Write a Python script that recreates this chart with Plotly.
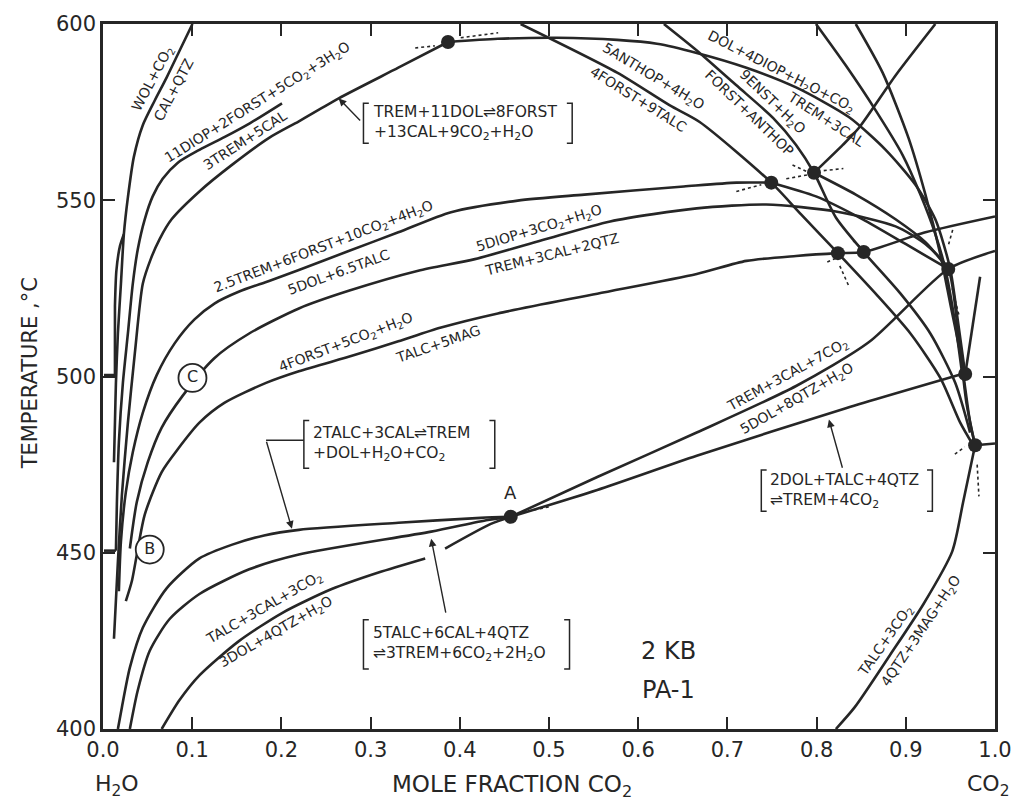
import plotly.graph_objects as go

INK = "#262626"
FONT = "DejaVu Sans"

# ---------------- curve data (mole fraction CO2, temperature °C) ----------------
wol_x = [0.0123, 0.0134, 0.0145, 0.0167, 0.0201, 0.0234, 0.0279, 0.0346, 0.0446, 0.0580, 0.0713, 0.0858, 0.1003]
wol_t = [475.7, 486.9, 498.2, 512.2, 526.3, 540.4, 550.8, 562.3, 571.3, 578.3, 584.8, 592.4, 600.0]

# bracket-like foot at 500 °C merging into the WOL curve
foot500_x = [0.0011, 0.0134, 0.0134]
foot500_t = [500.4, 500.4, 520.0]
merge500_x = [0.0134, 0.0150, 0.0190, 0.0234]
merge500_t = [520.0, 530.0, 537.0, 540.4]

foot450_x = [0.0011, 0.0145]
foot450_t = [450.6, 450.6]

diop11_x = [0.0145, 0.0156, 0.0178, 0.0223, 0.0279, 0.0334, 0.0390, 0.0468, 0.0557, 0.0669, 0.0836, 0.1081, 0.1360, 0.1650, 0.2007]
diop11_t = [450.6, 464.4, 481.3, 498.2, 512.2, 526.3, 536.1, 544.6, 551.1, 556.1, 560.6, 564.3, 567.9, 571.9, 577.5]

trem11_x = [0.0123, 0.0167, 0.0212, 0.0279, 0.0357, 0.0446, 0.0535, 0.0635, 0.0769, 0.1081, 0.1449, 0.1862, 0.2196, 0.2642, 0.3311, 0.3868]
trem11_t = [425.6, 447.5, 466.4, 486.9, 506.6, 526.3, 533.3, 539.0, 544.6, 552.5, 560.1, 567.7, 572.4, 578.9, 587.6, 594.9]

trem25_x = [0.0178, 0.0201, 0.0256, 0.0334, 0.0446, 0.0602, 0.0803, 0.1026, 0.1249, 0.1527, 0.1862, 0.2196, 0.2754, 0.3311, 0.3902, 0.4649, 0.5396, 0.6511, 0.7102, 0.7492]
trem25_t = [439.1, 453.2, 467.2, 478.5, 489.7, 500.4, 509.4, 516.2, 520.7, 524.1, 527.1, 530.2, 535.6, 540.9, 546.6, 549.9, 551.6, 553.9, 555.0, 555.0]

diop5_x = [0.0301, 0.0379, 0.0502, 0.0658, 0.0892, 0.1248, 0.1639, 0.2196, 0.2754, 0.3534, 0.4169, 0.4928, 0.5686, 0.6656, 0.7436, 0.8216, 0.8885, 0.9219, 0.9476, 0.9588, 0.9680, 0.9777]
diop5_t = [451.2, 464.4, 475.7, 485.5, 494.5, 505.2, 512.2, 519.3, 524.3, 530.0, 533.3, 538.7, 544.0, 547.7, 548.8, 546.8, 542.6, 537.6, 530.5, 512.2, 492.5, 480.5]

forst4_x = [0.0256, 0.0323, 0.0468, 0.0658, 0.0836, 0.1081, 0.1360, 0.1828, 0.2196, 0.2809, 0.3311, 0.3790, 0.4426, 0.5541, 0.6656, 0.7213, 0.7770, 0.8239, 0.8528, 0.9220, 1.0]
forst4_t = [436.3, 441.9, 460.8, 472.9, 479.3, 486.9, 492.5, 498.2, 501.5, 506.0, 510.0, 513.9, 517.9, 523.5, 529.1, 532.8, 534.2, 535.0, 535.3, 540.9, 545.4]

talc2_x = [0.0167, 0.0212, 0.0301, 0.0446, 0.0713, 0.1081, 0.1449, 0.1806, 0.2196, 0.3311, 0.4236, 0.4571]
talc2_t = [400.0, 406.2, 417.4, 428.7, 439.9, 448.4, 452.3, 454.9, 456.5, 458.5, 459.9, 460.2]

mid_x = [0.0301, 0.0390, 0.0524, 0.0747, 0.1081, 0.1639, 0.2196, 0.3679, 0.4314, 0.4571]
mid_t = [400.0, 411.0, 422.2, 431.2, 438.3, 445.3, 449.5, 456.0, 459.3, 460.2]

talc3cal_x = [0.0658, 0.0858, 0.1081, 0.1527, 0.2007, 0.2564, 0.3088, 0.3612]
talc3cal_t = [400.0, 408.2, 415.2, 425.0, 432.9, 439.7, 444.4, 448.4]

talc5_x = [0.3835, 0.4348, 0.4571]
talc5_t = [451.2, 458.2, 460.2]

co7_x = [0.4571, 0.5541, 0.6656, 0.7770, 0.8584, 0.9476, 1.0]
co7_t = [460.2, 471.5, 484.1, 497.3, 509.7, 530.5, 535.6]

dol2_x = [0.4571, 0.5541, 0.6656, 0.8328, 0.9632]
dol2_t = [460.2, 467.8, 477.5, 491.0, 500.7]

talcmag_x = [0.8216, 0.8428, 0.8818, 0.9197, 0.9521, 0.9643, 0.9777]
talcmag_t = [400.0, 406.2, 420.8, 435.4, 450.4, 464.4, 480.5]

d8_x = [0.9777, 1.0]
d8_t = [480.5, 481.0]

d7up_x = [0.9677, 0.9833]
d7up_t = [502.4, 528.3]

dome_x = [0.3868, 0.4426, 0.5095, 0.5764, 0.6210, 0.6656, 0.7213, 0.7770, 0.8361, 0.8774, 0.9108, 0.9331, 0.9498, 0.9588, 0.9666]
dome_t = [594.9, 595.8, 596.1, 595.5, 594.4, 591.8, 587.6, 582.0, 573.6, 564.3, 554.4, 544.6, 530.5, 515.0, 500.7]

anth_x = [0.4682, 0.5764, 0.6355, 0.6689, 0.7492, 0.7826, 0.8239, 0.8662, 0.9052, 0.9387, 0.9610, 0.9755]
anth_t = [600.0, 586.2, 576.9, 572.2, 555.0, 546.0, 535.0, 523.5, 512.2, 499.6, 486.9, 480.5]

fanth_x = [0.6288, 0.6689, 0.7101, 0.7514, 0.7770, 0.7971, 0.8216, 0.8528, 0.8941, 0.9275, 0.9554, 0.9721]
fanth_t = [600.0, 591.8, 582.6, 573.3, 565.7, 557.8, 545.1, 535.3, 523.5, 512.2, 498.2, 484.1]

upr_x = [0.7971, 0.8294, 0.8473, 0.8885, 0.9331]
upr_t = [557.8, 565.7, 570.5, 585.4, 600.0]

top1_x = [0.7993, 0.8328, 0.8662, 0.8963, 0.9164, 0.9331, 0.9443, 0.9554, 0.9632]
top1_t = [600.0, 588.2, 575.5, 562.9, 551.6, 540.4, 530.5, 515.0, 500.7]

top2_x = [0.8439, 0.8740, 0.9030, 0.9220, 0.9387, 0.9498, 0.9610, 0.9721, 0.9777]
top2_t = [600.0, 586.2, 567.7, 551.6, 534.7, 520.7, 506.6, 486.9, 480.5]

d2d6_x = [0.7492, 0.7993, 0.8517, 0.8997, 0.9476]
d2d6_t = [555.0, 551.1, 544.6, 537.6, 530.5]

d3d6_x = [0.7971, 0.8439, 0.8885, 0.9220, 0.9476]
d3d6_t = [557.8, 551.6, 544.6, 538.1, 530.5]

smooth_curves = [
    (wol_x, wol_t), (merge500_x, merge500_t), (diop11_x, diop11_t), (trem11_x, trem11_t),
    (trem25_x, trem25_t), (diop5_x, diop5_t), (forst4_x, forst4_t), (talc2_x, talc2_t),
    (mid_x, mid_t), (talc3cal_x, talc3cal_t), (talc5_x, talc5_t), (co7_x, co7_t),
    (dol2_x, dol2_t), (talcmag_x, talcmag_t), (dome_x, dome_t), (anth_x, anth_t),
    (fanth_x, fanth_t), (upr_x, upr_t), (top1_x, top1_t), (top2_x, top2_t),
    (d2d6_x, d2d6_t), (d3d6_x, d3d6_t),
]
straight_curves = [(foot500_x, foot500_t), (foot450_x, foot450_t), (d8_x, d8_t), (d7up_x, d7up_t)]

# metastable (dashed) extensions near invariant points
dash_segments = [
    ([0.350, 0.372], [593.2, 593.8]),
    ([0.401, 0.443], [596.1, 597.5]),
    ([0.710, 0.738], [552.5, 554.4]),
    ([0.766, 0.790], [556.1, 557.2]),
    ([0.773, 0.790], [560.0, 558.0]),
    ([0.808, 0.830], [558.4, 559.0]),
    ([0.826, 0.836], [531.4, 525.7]),
    ([0.812, 0.826], [532.5, 534.0]),
    ([0.841, 0.850], [538.5, 536.5]),
    ([0.948, 0.953], [537.5, 542.0]),
    ([0.952, 0.960], [525.0, 517.0]),
    ([0.980, 0.982], [475.0, 466.0]),
    ([0.955, 0.966], [478.0, 480.0]),
    ([0.470, 0.500], [461.5, 463.0]),
]

# invariant points
inv_x = [0.3868, 0.7492, 0.7971, 0.8239, 0.8528, 0.9476, 0.9666, 0.9777, 0.4571]
inv_t = [594.9, 555.0, 557.8, 535.0, 535.3, 530.5, 500.7, 480.5, 460.2]

# circled curve labels
circ_x = [0.0524, 0.1003]
circ_t = [450.9, 499.6]
circ_txt = ["B", "C"]

# rotated reaction labels: text, x, T, angle
reaction_labels = [
    ("WOL+CO<sub>2</sub>", 0.0557, 584.5, -62),
    ("CAL+QTZ", 0.0792, 581.2, -62),
    ("11DIOP+2FORST+5CO<sub>2</sub>+3H<sub>2</sub>O", 0.1728, 577.7, -32),
    ("3TREM+5CAL", 0.1594, 567.1, -33),
    ("2.5TREM+6FORST+10CO<sub>2</sub>+4H<sub>2</sub>O", 0.2475, 536.7, -21),
    ("5DOL+6.5TALC", 0.2642, 529.7, -20),
    ("5DIOP+3CO<sub>2</sub>+H<sub>2</sub>O", 0.4883, 541.8, -17),
    ("TREM+3CAL+2QTZ", 0.5039, 534.7, -14),
    ("4FORST+5CO<sub>2</sub>+H<sub>2</sub>O", 0.2720, 509.4, -21),
    ("TALC+5MAG", 0.3757, 509.1, -19),
    ("5ANTHOP+4H<sub>2</sub>O", 0.6170, 584.9, 31),
    ("4FORST+9TALC", 0.5998, 578.6, 32),
    ("DOL+4DIOP+H<sub>2</sub>O+CO<sub>2</sub>", 0.7603, 586.5, 27),
    ("TREM+3CAL", 0.8105, 573.0, 33),
    ("9ENST+H<sub>2</sub>O", 0.7501, 578.0, 44),
    ("FORST+ANTHOP", 0.7249, 574.7, 44),
    ("TREM+3CAL+7CO<sub>2</sub>", 0.7681, 500.4, -29),
    ("5DOL+8QTZ+H<sub>2</sub>O", 0.7782, 493.7, -30),
    ("TALC+3CAL+3CO<sub>2</sub>", 0.1812, 434.2, -30),
    ("3DOL+4QTZ+H<sub>2</sub>O", 0.1945, 427.6, -30),
    ("TALC+3CO<sub>2</sub>", 0.8774, 425.0, -55),
    ("4QTZ+3MAG+H<sub>2</sub>O", 0.9175, 427.8, -56),
]

# bracketed reactions: text, left bracket x, right bracket x, top T, bottom T
bracket_labels = [
    ("TREM+11DOL\u21cc8FORST<br>+13CAL+9CO<sub>2</sub>+H<sub>2</sub>O", 0.292, 0.526, 577.5, 566.2),
    ("2TALC+3CAL\u21ccTREM<br>+DOL+H<sub>2</sub>O+CO<sub>2</sub>", 0.2252, 0.4392, 487.5, 474.0),
    ("5TALC+6CAL+4QTZ<br>\u21cc3TREM+6CO<sub>2</sub>+2H<sub>2</sub>O", 0.292, 0.523, 431.0, 417.0),
    ("2DOL+TALC+4QTZ<br>\u21ccTREM+4CO<sub>2</sub>", 0.738, 0.9298, 473.5, 461.8),
]

# leader arrows: tip x, tip T, tail x, tail T
arrows = [
    (0.2642, 578.9, 0.2899, 572.2),
    (0.2118, 456.8, 0.1828, 481.9),
    (0.3679, 454.0, 0.3846, 432.6),
    (0.8138, 487.8, 0.8294, 473.7),
]
leader_x = [0.1828, 0.2252]
leader_t = [481.9, 481.9]

x_ticks = [0.0, 0.1, 0.2, 0.3, 0.4, 0.5, 0.6, 0.7, 0.8, 0.9, 1.0]
x_ticktext = ["0.0", "0.1", "0.2", "0.3", "0.4", "0.5", "0.6", "0.7", "0.8", "0.9", "1.0"]
y_ticks = [400, 450, 500, 550, 600]

fig = go.Figure()

for x, t in smooth_curves:
    fig.add_trace(go.Scatter(x=x, y=t, mode="lines",
                             line=dict(color=INK, width=2.6, shape="spline", smoothing=0.7),
                             hoverinfo="skip", showlegend=False))
for x, t in straight_curves:
    fig.add_trace(go.Scatter(x=x, y=t, mode="lines", line=dict(color=INK, width=2.6),
                             hoverinfo="skip", showlegend=False))

for x, t in dash_segments:
    fig.add_trace(go.Scatter(x=x, y=t, mode="lines",
                             line=dict(color=INK, width=1.6, dash="3px,3px"),
                             hoverinfo="skip", showlegend=False))

fig.add_trace(go.Scatter(x=leader_x, y=leader_t, mode="lines",
                         line=dict(color=INK, width=1.4), hoverinfo="skip", showlegend=False))

fig.add_trace(go.Scatter(x=inv_x, y=inv_t, mode="markers",
                         marker=dict(color=INK, size=14), hoverinfo="skip", showlegend=False))

fig.add_trace(go.Scatter(x=circ_x, y=circ_t, mode="markers+text", text=circ_txt,
                         textposition="middle center",
                         textfont=dict(family=FONT, size=16, color=INK),
                         marker=dict(color="white", size=28, line=dict(color=INK, width=1.8)),
                         hoverinfo="skip", showlegend=False))

for txt, x, t, ang in reaction_labels:
    fig.add_annotation(x=x, y=t, xref="x", yref="y", text=txt, textangle=ang,
                       showarrow=False, font=dict(family=FONT, size=14, color=INK))

for txt, xl, xr, tt, tb in bracket_labels:
    fig.add_annotation(x=xl + 0.008, y=(tt + tb) / 2, xref="x", yref="y", text=txt,
                       xanchor="left", yanchor="middle", align="left", showarrow=False,
                       font=dict(family=FONT, size=15.5, color=INK))
    w = 0.006
    fig.add_shape(type="path", xref="x", yref="y",
                  path=f"M {xl + w},{tt} L {xl},{tt} L {xl},{tb} L {xl + w},{tb}",
                  line=dict(color=INK, width=1.5))
    fig.add_shape(type="path", xref="x", yref="y",
                  path=f"M {xr - w},{tt} L {xr},{tt} L {xr},{tb} L {xr - w},{tb}",
                  line=dict(color=INK, width=1.5))

for tx, tt, sx, st in arrows:
    fig.add_annotation(x=tx, y=tt, ax=sx, ay=st, xref="x", yref="y", axref="x", ayref="y",
                       text="", showarrow=True, arrowhead=2, arrowsize=1.1, arrowwidth=1.4,
                       arrowcolor=INK)

fig.add_annotation(x=0.4571, y=467.2, xref="x", yref="y", text="A", showarrow=False,
                   font=dict(family=FONT, size=18, color=INK))
fig.add_annotation(x=0.634, y=422.2, xref="x", yref="y", text="2 KB", showarrow=False,
                   font=dict(family=FONT, size=24, color=INK))
fig.add_annotation(x=0.634, y=411.0, xref="x", yref="y", text="PA-1", showarrow=False,
                   font=dict(family=FONT, size=24, color=INK))

fig.add_annotation(x=0.459, y=-0.057, xref="paper", yref="paper", xanchor="center", yanchor="top",
                   text="MOLE FRACTION CO<sub>2</sub>",
                   showarrow=False, font=dict(family=FONT, size=23, color=INK))
fig.add_annotation(x=0.0156, y=-0.057, xref="paper", yref="paper", xanchor="center", yanchor="top",
                   text="H<sub>2</sub>O",
                   showarrow=False, font=dict(family=FONT, size=22, color=INK))
fig.add_annotation(x=0.992, y=-0.057, xref="paper", yref="paper", xanchor="center", yanchor="top",
                   text="CO<sub>2</sub>",
                   showarrow=False, font=dict(family=FONT, size=22, color=INK))
fig.add_annotation(x=-0.0814, y=0.505, xref="paper", yref="paper", xanchor="center", yanchor="middle",
                   text="TEMPERATURE ,°C",
                   textangle=-90, showarrow=False, font=dict(family=FONT, size=21, color=INK))

axis_common = dict(showgrid=False, zeroline=False, showline=True, linecolor=INK, linewidth=2.5,
                   mirror="ticks", ticks="inside", ticklen=12, tickwidth=2, tickcolor=INK,
                   tickfont=dict(family=FONT, size=21, color=INK))

fig.update_xaxes(range=[0, 1], tickvals=x_ticks, ticktext=x_ticktext, **axis_common)
fig.update_yaxes(range=[400, 600], tickvals=y_ticks, **axis_common)

fig.update_layout(width=1024, height=804, margin=dict(l=103, r=24, t=18, b=75),
                  plot_bgcolor="white", paper_bgcolor="white",
                  font=dict(family=FONT, color=INK), showlegend=False)

fig.write_html("out.html")
